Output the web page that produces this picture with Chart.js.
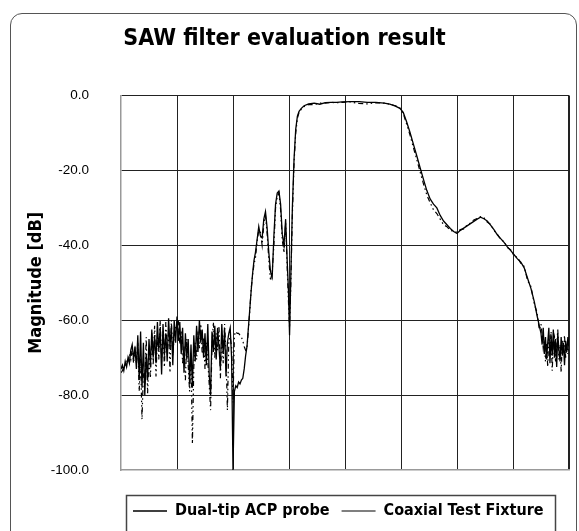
<!DOCTYPE html>
<html>
<head>
<meta charset="utf-8">
<title>SAW filter evaluation result</title>
<script src="https://cdn.jsdelivr.net/npm/chart.js@4.4.1/dist/chart.umd.min.js"></script>
<style>
  html, body { margin: 0; padding: 0; background: #fff; }
  #wrap { position: relative; width: 579px; height: 531px; overflow: hidden; }
  #frame { position: absolute; left: 10px; top: 13px; width: 567px; height: 560px;
           border: 1.5px solid #555; border-radius: 12px; box-sizing: border-box; }
  canvas { position: absolute; left: 0; top: 0; }
</style>
</head>
<body>
<div id="wrap">
  <div id="frame"></div>
  <canvas id="sawChart" width="579" height="531"></canvas>
</div>
<script>
// frequency position, in grid divisions (8 divisions across the plot)
const freqDiv = [
  // noise floor below the passband
  0, 0.025, 0.05, 0.075, 0.1, 0.125, 0.15, 0.175, 0.2, 0.225,
  0.25, 0.275, 0.3, 0.325, 0.35, 0.375, 0.4, 0.425, 0.45, 0.475,
  0.5, 0.525, 0.55, 0.575, 0.6, 0.625, 0.65, 0.675, 0.7, 0.725,
  0.75, 0.775, 0.8, 0.825, 0.85, 0.875, 0.9, 0.925, 0.95, 0.975,
  1, 1.025, 1.05, 1.075, 1.1, 1.125, 1.15, 1.175, 1.2, 1.225,
  1.25, 1.275, 1.3, 1.325, 1.35, 1.375, 1.4, 1.425, 1.45, 1.475,
  1.5, 1.525, 1.55, 1.575, 1.6, 1.625, 1.65, 1.675, 1.7, 1.725,
  1.75, 1.775, 1.8, 1.825, 1.85, 1.875, 1.9, 1.925, 1.95, 1.975,
  2,
  // spurious bumps, passband, upper skirt, noise floor
  2.025, 2.05, 2.075, 2.1, 2.125, 2.15, 2.175, 2.2, 2.225, 2.25,
  2.275, 2.3, 2.325, 2.35, 2.375, 2.4, 2.43, 2.46, 2.49, 2.52,
  2.55, 2.58, 2.61, 2.64, 2.67, 2.7, 2.73, 2.76, 2.79, 2.82,
  2.85, 2.88, 2.91, 2.94, 2.97, 2.99, 3.01, 3.03, 3.06, 3.09,
  3.12, 3.15, 3.18, 3.22, 3.27, 3.35, 3.45, 3.55, 3.65, 3.75,
  3.85, 3.95, 4.1, 4.25, 4.4, 4.55, 4.7, 4.8, 4.9, 4.98,
  5.04, 5.1, 5.16, 5.22, 5.28, 5.34, 5.4, 5.46, 5.52, 5.58,
  5.64, 5.7, 5.76, 5.82, 5.88, 5.94, 6, 6.06, 6.12, 6.18,
  6.24, 6.3, 6.36, 6.42, 6.48, 6.54, 6.6, 6.66, 6.72, 6.78,
  6.84, 6.9, 6.96, 7.02, 7.08, 7.14, 7.2, 7.26, 7.32, 7.38,
  7.43, 7.47, 7.5, 7.52, 7.54, 7.56, 7.58, 7.6, 7.62, 7.64,
  7.66, 7.68, 7.7, 7.72, 7.74, 7.76, 7.78, 7.8, 7.82, 7.84,
  7.86, 7.88, 7.9, 7.92, 7.94, 7.96, 7.98, 8
];

// Dual-tip ACP probe [dB]
const probeDb = [
  -73, -72, -73.5, -71, -72.5, -70, -71.5, -68, -66.5, -70.5,
  -67, -73, -64, -76, -63, -78, -66, -80, -69, -76,
  -65, -72.5, -62.5, -70, -64, -71.5, -60.5, -68, -62, -74.5,
  -61, -69.5, -63.5, -71, -59.5, -67, -61.5, -72, -60, -66,
  -59, -65.5, -60.5, -69, -62, -74, -63.5, -70.5, -65, -77,
  -66.5, -78, -64, -71, -61.5, -68.5, -60, -66, -62.5, -70,
  -63.5, -72, -61, -74.5, -80, -63, -68.5, -61.5, -70.5, -62,
  -67.5, -73, -61, -69, -62.5, -75, -66, -63.5, -62, -70,
  -100,
  -79, -77.5, -78, -76.5, -77, -76, -75.5, -73, -69.5, -67,
  -62, -57, -52, -47.5, -44, -42, -38.5, -35, -37.5, -38,
  -33, -31, -35.5, -42, -47, -48.5, -37.5, -29, -26, -25.5,
  -29, -37, -40, -33, -45, -52, -64, -50, -30, -17,
  -9, -5.5, -4.2, -3.4, -2.7, -2.2, -2.0, -2.3, -1.9, -1.8,
  -1.8, -1.7, -1.6, -1.6, -1.8, -1.8, -2.0, -2.3, -2.8, -3.4,
  -4.5, -7, -9.8, -12.9, -16, -19.2, -22.3, -25.3, -27.6, -29,
  -30, -32, -33.5, -34.5, -35.5, -36.3, -36.8, -36, -35.4, -34.8,
  -34.2, -33.6, -33, -32.5, -32.9, -33.5, -34.6, -35.8, -37.2, -38.2,
  -39.2, -40.4, -41.4, -42.5, -43.6, -44.5, -46, -48.8, -51.5, -55,
  -58.8, -61.5, -63.5, -66.5, -62, -69, -64.5, -70.5, -66, -62,
  -71.5, -64, -69.5, -62.5, -70, -65, -72.5, -63.5, -68, -71,
  -64.5, -69.5, -66, -72, -65.5, -68.5, -64.5, -67
];

// Coaxial Test Fixture [dB]
const coaxDb = [
  -74, -73.5, -72.5, -72, -71, -71.5, -69, -70.5, -67.5, -71.5,
  -68, -71.5, -66, -79, -70, -86.5, -74, -77, -64.5, -79.5,
  -70, -75.5, -63.5, -72, -61.5, -75, -64, -70.5, -60, -71,
  -63, -72.5, -60.5, -68, -62.5, -74, -60, -69.5, -64, -62,
  -61, -60, -66.5, -63, -71.5, -67, -76, -65, -72, -79,
  -70, -93, -72.5, -66, -70.5, -63, -67.5, -61, -69, -64.5,
  -73, -66, -71, -77, -84, -66.5, -60.5, -70, -63.5, -68,
  -61.5, -75.5, -64, -71.5, -61, -69, -84, -65.5, -64.5, -67,
  -82,
  -64, -63, -63.5, -63.5, -64, -64.5, -65.5, -67, -68, -67.5,
  -62.5, -57.5, -51.5, -48, -45, -43.5, -39, -36, -36.5, -40,
  -34.5, -32, -37, -44, -49.5, -47, -40, -30, -27, -26,
  -30.5, -38.5, -42, -34, -47, -55, -62, -52, -32, -18,
  -10, -6, -4.5, -3.6, -2.9, -2.4, -2.4, -2.0, -2.0, -1.8,
  -1.9, -1.8, -1.7, -2.1, -2.2, -1.9, -2.0, -2.3, -2.7, -3.3,
  -4.8, -7.6, -10.5, -13.8, -17, -20.3, -23.5, -26.5, -28.6, -30.5,
  -31.5, -33, -34.5, -35, -36, -36.2, -36.5, -35.8, -35.6, -34.6,
  -34, -33.2, -32.8, -32.3, -32.6, -33.8, -34.4, -36, -37, -38.4,
  -39, -40.6, -41.2, -42.8, -43.2, -44.8, -45.6, -49.4, -51, -55.6,
  -58, -62.5, -61, -64, -67.5, -65.5, -71, -66, -72.5, -64,
  -68.5, -63, -73.5, -66, -64.5, -71, -67, -62.5, -70.5, -66.5,
  -74, -65.5, -68.5, -64, -70, -66.5, -69, -65
];

const yTicks = [0, -20, -40, -60, -80, -100];

const condensed = "'DejaVu Sans Condensed', sans-serif";

function toPoints(values) {
  return values.map((v, i) => ({ x: freqDiv[i], y: v }));
}

// box drawn round the legend, like the Excel one
const legendFrame = {
  id: "legendFrame",
  afterDraw(chart) {
    const lg = chart.legend;
    if (!lg || !lg.lineWidths) return;
    const pad = lg.options.labels.padding;
    const x0 = lg.left + pad - 7;
    const x1 = lg.left + lg.lineWidths[0] + 11;
    const yc = lg.top + pad + lg.options.labels.font.size / 2;
    const ctx = chart.ctx;
    ctx.save();
    ctx.strokeStyle = "#444";
    ctx.lineWidth = 1.5;
    ctx.strokeRect(Math.round(x0) + 0.5, Math.round(yc - 16) + 0.5, Math.round(x1 - x0), 60);
    ctx.restore();
  }
};

const sawChart = new Chart(document.getElementById("sawChart"), {
  type: "line",
  data: {
    datasets: [
      {
        label: "Dual-tip ACP probe",
        data: toPoints(probeDb),
        borderColor: "#000",
        borderWidth: 1.3,
        pointRadius: 0,
        tension: 0
      },
      {
        label: "Coaxial Test Fixture",
        data: toPoints(coaxDb),
        borderColor: "#000",
        borderWidth: 1.2,
        borderDash: [5, 3, 1.5, 3, 1.5, 3],
        pointRadius: 0,
        tension: 0
      }
    ]
  },
  options: {
    responsive: false,
    animation: false,
    devicePixelRatio: 1,
    layout: { padding: { left: 0, right: 10, top: 0, bottom: 2 } },
    plugins: {
      title: {
        display: true,
        text: "SAW filter evaluation result",
        color: "#000",
        font: { family: condensed, size: 23, weight: "bold" },
        padding: { top: 25, bottom: 43 }
      },
      legend: {
        position: "bottom",
        align: "start",
        fullSize: false,
        labels: {
          usePointStyle: true,
          pointStyle: "line",
          pointStyleWidth: 34,
          padding: 12,
          color: "#000",
          font: { family: condensed, size: 16, weight: "bold" }
        }
      },
      tooltip: { enabled: false }
    },
    scales: {
      x: {
        type: "linear",
        min: 0,
        max: 8,
        ticks: { display: false, stepSize: 1 },
        grid: {
          drawTicks: false,
          color: (c) => (c.tick && c.tick.value === 0 ? "rgba(0,0,0,0)" : "#222"),
          lineWidth: (c) => (c.tick && c.tick.value === 8 ? 2 : 1)
        },
        border: { color: "#999", width: 1.5 },
        afterFit: (s) => { s.height = 21; }
      },
      y: {
        min: -100,
        max: 0,
        afterBuildTicks: (s) => { s.ticks = yTicks.map((v) => ({ value: v })); },
        ticks: {
          padding: 32,
          color: "#000",
          font: { family: "'Liberation Sans', Arial, sans-serif", size: 13.5 },
          callback: (v) => Number(v).toFixed(1)
        },
        grid: {
          drawTicks: false,
          color: (c) => (c.tick && c.tick.value === -100 ? "rgba(0,0,0,0)" : "#222")
        },
        border: { color: "#999", width: 1.5 },
        title: {
          display: true,
          text: "Magnitude [dB]",
          color: "#000",
          font: { family: condensed, size: 18, weight: "bold" },
          padding: { top: 26, bottom: 0 }
        },
        afterFit: (s) => { s.width = 121; }
      }
    }
  },
  plugins: [legendFrame]
});
</script>
</body>
</html>
